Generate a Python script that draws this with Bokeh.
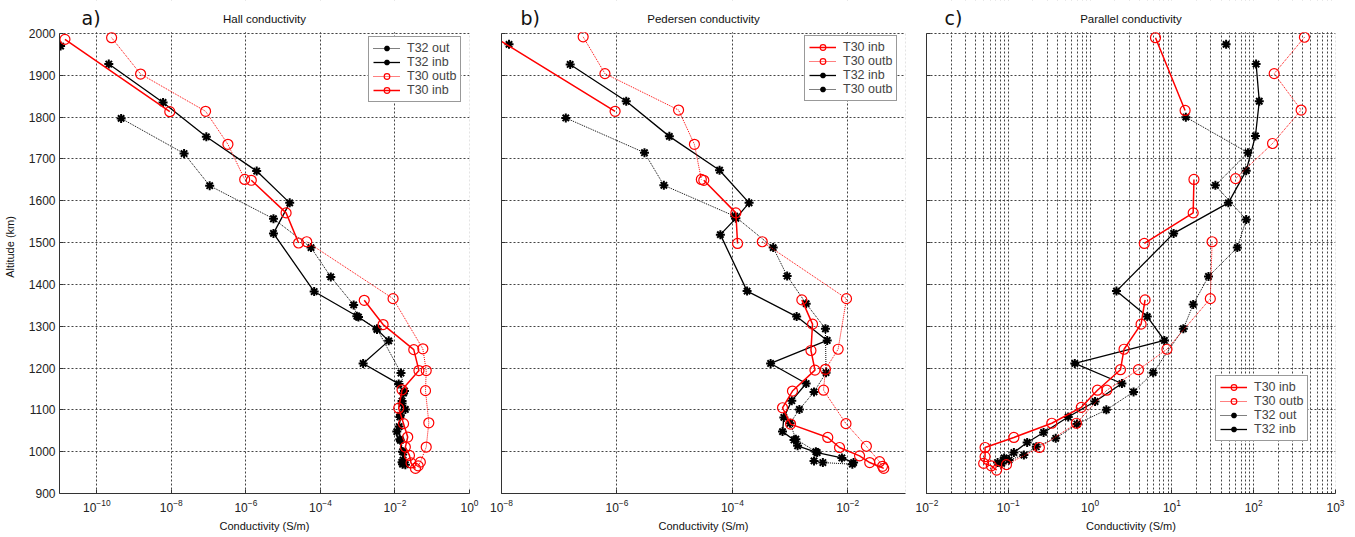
import numpy as np
from bokeh.plotting import figure
from bokeh.models import (FixedTicker, Range1d, Legend, LegendItem, Label, ColumnDataSource,
                          BoxAnnotation)
from bokeh.layouts import row
from bokeh.embed import file_html
from bokeh.resources import INLINE

nan = float("nan")

# ---------------- data ----------------
altitude_ticks = list(range(900, 2001, 100))
hall_ticks = [1e-10, 1e-8, 1e-6, 1e-4, 1e-2, 1e0]
ped_ticks = [1e-8, 1e-6, 1e-4, 1e-2]
par_ticks = [1e-2, 1e-1, 1e0, 1e1, 1e2, 1e3]
par_minor = [m * 10.0 ** k for k in range(-2, 3) for m in range(2, 10)]

# a) Hall conductivity (S/m) vs altitude (km)
hall_t30_inb_alt = [1986, 1813, nan, 1649, 1571, 1499, nan, 1362, 1304, 1244, 1194, 1148, 1104, 1067, 1035, 1011, 991, 973, 960]
hall_t30_inb = [1.4e-11, 9.1e-9, nan, 1.4e-6, 1.2e-5, 2.6e-5, nan, 1.5e-3, 4.8e-3, 3.2e-2, 4.4e-2, 1.55e-2, 1.26e-2, 1.7e-2, 2.2e-2, 1.9e-2, 2.45e-2, 2.7e-2, 3.55e-2]
hall_t30_outb_alt = [1990, 1903, 1814, 1735, 1651, nan, 1502, 1366, 1246, 1194, 1146, 1069, 1011, 975, 966]
hall_t30_outb = [2.5e-10, 1.5e-9, 8.3e-8, 3.3e-7, 9.3e-7, nan, 4.3e-5, 8.9e-3, 5.6e-2, 6.9e-2, 6.6e-2, 8.1e-2, 6.9e-2, 4.8e-2, 4.2e-2]
hall_t32_inb_alt = [1927, 1835, 1753, 1671, 1595, 1522, 1383, 1322, 1292, 1265, 1211, 1162, 1140, 1115, 1087, 1060, 1030, 1000, 980, 970]
hall_t32_inb = [2.1e-10, 6.0e-9, 8.7e-8, 1.95e-6, 1.5e-5, 5.5e-6, 6.8e-5, 1.05e-3, 3.3e-3, 6.8e-3, 1.4e-3, 1.26e-2, 1.7e-2, 1.55e-2, 1.4e-2, 1.3e-2, 1.35e-2, 1.6e-2, 1.65e-2, 1.6e-2]
hall_t32_out_alt = [1970, nan, 1797, 1713, 1636, 1557, 1488, 1418, 1351, 1324, 1294, 1188, 1145, 1121, 1101, 1083, 1048, 1027, 999, 975, 969]
hall_t32_out = [1.07e-11, nan, 4.5e-10, 2.2e-8, 1.07e-7, 5.5e-6, 5.6e-5, 1.9e-4, 7.8e-4, 9.5e-4, 3.3e-3, 1.45e-2, 1.8e-2, 1.55e-2, 1.9e-2, 1.35e-2, 1.12e-2, 1.4e-2, 1.7e-2, 1.55e-2, 1.9e-2]

# b) Pedersen conductivity
ped_t30_inb_alt = [1990, 1814, nan, 1649, 1571, 1498, nan, 1363, 1305, 1242, 1195, 1145, 1105, 1066, 1034, 1010, 990, 974, 960]
ped_t30_inb = [7.9e-9, 9.3e-7, nan, 3.2e-5, 1.15e-4, 1.23e-4, nan, 1.6e-3, 2.45e-3, 2.3e-3, 2.7e-3, 1.1e-3, 7.4e-4, 1.02e-3, 4.5e-3, 7.2e-3, 1.6e-2, 2.4e-2, 4.2e-2]
ped_t30_outb_alt = [1992, 1904, 1817, 1735, 1651, nan, 1502, 1366, 1245, 1197, 1147, 1067, 1013, 976, 965]
ped_t30_outb = [2.6e-7, 6.2e-7, 1.17e-5, 2.2e-5, 2.9e-5, nan, 3.3e-4, 9.5e-3, 6.8e-3, 4.1e-3, 3.8e-3, 9.3e-3, 2.1e-2, 3.55e-2, 4.0e-2]
ped_t32_inb_alt = [1926, 1838, 1754, 1673, 1595, 1558, 1519, 1384, 1323, 1266, 1211, 1163, 1122, 1082, 1048, 1028, 1014, 998, 985, 974]
ped_t32_inb = [1.55e-7, 1.45e-6, 8.1e-6, 6.0e-5, 1.95e-4, 1.15e-4, 6.2e-5, 1.8e-4, 1.3e-3, 4.4e-3, 4.6e-4, 1.9e-3, 1.07e-3, 7.8e-4, 7.4e-4, 1.17e-3, 1.35e-3, 2.95e-3, 7.9e-3, 1.26e-2]
ped_t32_out_alt = [1974, nan, 1798, 1715, 1637, 1563, 1488, 1420, 1354, 1294, 1189, 1143, 1101, 1068, 1030, 1000, 978, 974, 970]
ped_t32_out = [1.35e-8, nan, 1.3e-7, 3.0e-6, 6.5e-6, 1.1e-4, 5.1e-4, 8.9e-4, 1.9e-3, 4.1e-3, 4.2e-3, 2.6e-3, 1.45e-3, 1.0e-3, 1.26e-3, 2.8e-3, 2.6e-3, 3.7e-3, 1.2e-2]

# c) Parallel conductivity
par_t30_inb_alt = [1990, 1816, nan, 1651, 1571, 1498, nan, 1363, 1305, 1245, 1196, 1147, 1106, 1068, 1034, 1010, 988, 972, 966, 956]
par_t30_inb = [6.3, 14.5, nan, 18.6, 18.2, 4.6, nan, 4.7, 4.2, 2.6, 2.35, 1.23, 0.78, 0.34, 0.117, 0.052, 0.052, 0.050, 0.062, 0.072]
par_t30_outb_alt = [1991, 1904, 1817, 1737, 1653, nan, 1502, 1366, 1245, 1196, 1147, 1068, 1010, 969]
par_t30_outb = [417, 178, 380, 170, 60, nan, 31, 29.5, 8.7, 3.9, 1.6, 0.68, 0.24, 0.095]
par_t32_inb_alt = [1927, 1838, 1755, 1672, 1595, 1522, 1384, 1323, 1266, 1211, 1163, 1120, 1083, 1046, 1022, 998, 985, 974]
par_t32_inb = [107, 117, 105, 81, 49, 10.5, 2.1, 5.0, 8.1, 0.65, 2.45, 1.15, 0.54, 0.27, 0.17, 0.117, 0.089, 0.074]
par_t32_out_alt = [1974, nan, 1800, 1715, 1637, 1555, 1488, 1419, 1352, 1294, 1189, 1143, 1100, 1066, 1032, 1012, 992, 980, 972]
par_t32_out = [46, nan, 14.8, 85, 34, 81, 63, 28, 18.2, 13.8, 5.9, 3.4, 1.58, 0.69, 0.38, 0.22, 0.155, 0.102, 0.083]

# ---------------- styling ----------------
FONT = "Liberation Sans"
FIG_H = 537
BORDER_BOTTOM = 44
FRAME_H = FIG_H - BORDER_BOTTOM          # frame runs from the very top (header lives inside it)
PLOT_TOP_PX = 33                         # pixel row of altitude 2000
Y_TOP = 2000 + PLOT_TOP_PX * 1100.0 / (FRAME_H - PLOT_TOP_PX)

STYLES = {
    "t30_inb": dict(color="#ff0000", dash="solid", marker="circle", lw=1.5),
    "t30_outb": dict(color="#ff0000", dash="1 1", marker="circle", lw=1.0),
    "t32_inb": dict(color="#000000", dash="solid", marker="asterisk", lw=1.3),
    "t32_out": dict(color="#000000", dash="1 1", marker="asterisk", lw=1.0),
}
GRID = "#444444"


def draw(p, x, alt, key):
    st = STYLES[key]
    src = ColumnDataSource(dict(x=np.array(x, dtype=float), y=np.array(alt, dtype=float)))
    ln = p.line("x", "y", source=src, line_color=st["color"], line_width=st["lw"], line_dash=st["dash"])
    if st["marker"] == "circle":
        sc = p.scatter("x", "y", source=src, marker="circle", size=10, fill_color=None,
                       line_color=st["color"], line_width=1.2)
    else:
        sc = p.scatter("x", "y", source=src, marker="asterisk", size=9,
                       line_color=st["color"], line_width=2)
    return [ln, sc]


def panel(title, tag, tag_dx, xlo, xhi, ticks, minor, fw, bl, br, show_y, series, legend_items, legend_loc):
    p = figure(width=bl + fw + br, height=FIG_H, x_axis_type="log", output_backend="svg",
               toolbar_location=None, x_range=Range1d(xlo, xhi), y_range=Range1d(900, Y_TOP),
               min_border_left=bl, min_border_right=br, min_border_top=0,
               min_border_bottom=BORDER_BOTTOM, title=None)

    p.xaxis.ticker = FixedTicker(ticks=ticks, minor_ticks=minor)
    p.yaxis.ticker = FixedTicker(ticks=altitude_ticks)
    p.yaxis.bounds = (900, 2000)
    for ax in (p.xaxis[0], p.yaxis[0]):
        ax.major_tick_in = 4
        ax.major_tick_out = 0
        ax.minor_tick_in = 2 if minor else 0
        ax.minor_tick_out = 0
        ax.axis_line_color = "#333333"
        ax.major_tick_line_color = "#333333"
        ax.minor_tick_line_color = "#333333"
        ax.major_label_text_font = FONT
        ax.major_label_text_font_size = "12px"
        ax.major_label_text_color = "#222222"
        ax.axis_label_text_font = FONT
        ax.axis_label_text_font_size = "11px"
        ax.axis_label_text_font_style = "normal"
        ax.axis_label_text_color = "#111111"
    p.xaxis.axis_label = "Conductivity (S/m)"
    p.xaxis.major_label_standoff = 5
    p.xaxis.axis_label_standoff = 5
    if show_y:
        p.yaxis.axis_label = "Altitude (km)"
        p.yaxis.major_label_standoff = 4
        p.yaxis.axis_label_standoff = 10
    else:
        p.yaxis.major_label_overrides = {v: "" for v in altitude_ticks}
        p.yaxis.major_label_standoff = 0

    for g in (p.xgrid[0], p.ygrid[0]):
        g.grid_line_color = GRID
        g.grid_line_dash = "2 2"
        g.grid_line_width = 1
    if minor:
        p.xgrid.minor_grid_line_color = GRID
        p.xgrid.minor_grid_line_dash = "2 2"
        p.xgrid.minor_grid_line_width = 1
    p.outline_line_color = None

    # header strip above altitude 2000 (hides the grid there)
    p.add_layout(BoxAnnotation(bottom=2003, top=Y_TOP + 200, fill_color="white", fill_alpha=1.0,
                               line_color=None, level="glyph"))
    # dotted plot box (top and right edges show; left/bottom sit under the axes)
    p.add_layout(BoxAnnotation(left=xlo, right=xhi, bottom=900, top=2000, fill_color=None,
                               fill_alpha=0, line_color=GRID, line_dash="2 2", line_width=1,
                               level="underlay"))

    rends = {}
    for key, (x, alt) in series.items():
        rends[key] = draw(p, x, alt, key)

    items = [LegendItem(label=lab, renderers=rends[key]) for lab, key in legend_items]
    leg = Legend(items=items, location=legend_loc, margin=0, padding=4, spacing=0,
                 glyph_width=27, glyph_height=14, label_height=14, label_standoff=7,
                 label_text_font=FONT, label_text_font_size="12.5px",
                 border_line_color="#333333", border_line_width=1,
                 background_fill_color="white", background_fill_alpha=1.0)
    p.add_layout(leg, "center")

    head_y = FRAME_H - 18
    p.add_layout(Label(x=fw / 2.0, y=head_y, x_units="screen", y_units="screen", text=title,
                       text_font=FONT, text_font_size="11.5px", text_align="center",
                       text_baseline="middle", text_color="#111111"))
    p.add_layout(Label(x=tag_dx, y=head_y + 0.5, x_units="screen", y_units="screen", text=tag,
                       text_font="DejaVu Sans", text_font_size="19px", text_align="left",
                       text_baseline="middle", text_color="#111111"))
    return p


pa = panel("Hall conductivity", "a)", 22, 1e-11, 1e0, hall_ticks, [], 410, 59, 16, True,
           {"t32_out": (hall_t32_out, hall_t32_out_alt), "t32_inb": (hall_t32_inb, hall_t32_inb_alt),
            "t30_outb": (hall_t30_outb, hall_t30_outb_alt), "t30_inb": (hall_t30_inb, hall_t30_inb_alt)},
           [("T32 out", "t32_out"), ("T32 inb", "t32_inb"), ("T30 outb", "t30_outb"), ("T30 inb", "t30_inb")],
           (309, 391))

pb = panel("Pedersen conductivity", "b)", 19, 1e-8, 1e-1, ped_ticks, [], 404, 16, 10, False,
           {"t32_out": (ped_t32_out, ped_t32_out_alt), "t32_inb": (ped_t32_inb, ped_t32_inb_alt),
            "t30_outb": (ped_t30_outb, ped_t30_outb_alt), "t30_inb": (ped_t30_inb, ped_t30_inb_alt)},
           [("T30 inb", "t30_inb"), ("T30 outb", "t30_outb"), ("T32 inb", "t32_inb"), ("T30 outb", "t32_out")],
           (303, 392))

pc = panel("Parallel conductivity", "c)", 18, 1e-2, 1e3, par_ticks, par_minor, 409, 11, 14, False,
           {"t32_out": (par_t32_out, par_t32_out_alt), "t32_inb": (par_t32_inb, par_t32_inb_alt),
            "t30_outb": (par_t30_outb, par_t30_outb_alt), "t30_inb": (par_t30_inb, par_t30_inb_alt)},
           [("T30 inb", "t30_inb"), ("T30 outb", "t30_outb"), ("T32 out", "t32_out"), ("T32 inb", "t32_inb")],
           (289, 52))

layout = row(pa, pb, pc)
open("out.html", "w").write(file_html(layout, INLINE))
